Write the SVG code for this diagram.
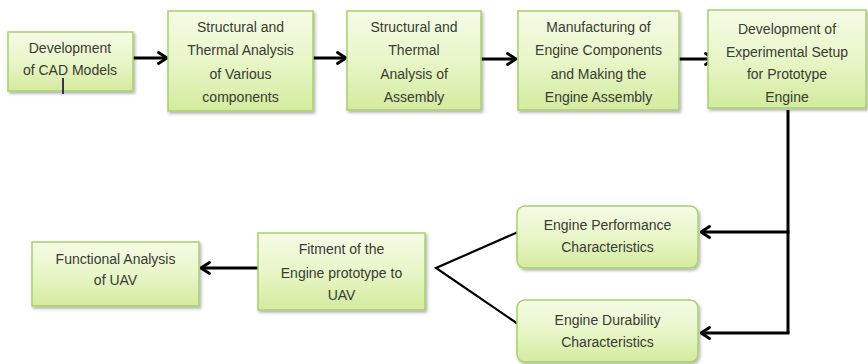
<svg xmlns="http://www.w3.org/2000/svg" width="868" height="364" viewBox="0 0 868 364">
  <defs>
    <linearGradient id="boxFill" x1="0" y1="0" x2="0" y2="1">
      <stop offset="0" stop-color="#f5fbe6"/>
      <stop offset="0.5" stop-color="#e8f6c8"/>
      <stop offset="1" stop-color="#d3eb9e"/>
    </linearGradient>
    <filter id="shadow" x="-10%" y="-10%" width="125%" height="130%">
      <feDropShadow dx="1.5" dy="2" stdDeviation="1.4" flood-color="#000" flood-opacity="0.3"/>
    </filter>
    <marker id="chev" viewBox="0 0 12 14" refX="10.5" refY="7" markerWidth="12" markerHeight="14" markerUnits="userSpaceOnUse" orient="auto">
      <path d="M2,1.5 L10.5,7 L2,12.5" fill="none" stroke="#000" stroke-width="2.8" stroke-linecap="round" stroke-linejoin="round"/>
    </marker>
  </defs>
  <style>
    .box { fill: url(#boxFill); stroke: #a8cf6e; stroke-width: 1.5; filter: url(#shadow); }
    .lbl { font-family: "Liberation Sans", Arial, sans-serif; font-size: 14px; fill: #3a3a36; text-anchor: middle; }
    .arrow { fill: none; stroke: #000; stroke-width: 3; marker-end: url(#chev); }
    .line { fill: none; stroke: #000; stroke-width: 3; }
    .thin { fill: none; stroke: #000; stroke-width: 2.2; }
  </style>

  <rect width="868" height="364" fill="#fff"/>

  <!-- connectors -->
  <g id="connectors">
    <line class="arrow" x1="133" y1="58" x2="167" y2="58"/>
    <line class="arrow" x1="313" y1="58" x2="346" y2="58"/>
    <line class="arrow" x1="481" y1="59" x2="516" y2="59"/>
    <line class="arrow" x1="679" y1="59" x2="714" y2="59"/>
    <polyline class="line" points="788,110 788,333"/>
    <line class="arrow" x1="789.5" y1="232" x2="701" y2="232"/>
    <line class="arrow" x1="789.5" y1="333" x2="701" y2="333"/>
    <polyline class="thin" points="518,232 436,268 518,324"/>
    <line class="arrow" x1="258" y1="268" x2="201" y2="268"/>
  </g>

  <!-- top row -->
  <g id="cad-models">
    <rect class="box" x="8" y="32" width="125" height="59"/>
    <text class="lbl" x="70" y="53">Development</text>
    <text class="lbl" x="70" y="75">of CAD Models</text>
    <line x1="63" y1="78" x2="63" y2="94" stroke="#3b2c66" stroke-width="2"/>
  </g>

  <g id="analysis-components">
    <rect class="box" x="168" y="11" width="145" height="100"/>
    <text class="lbl" x="240.5" y="32">Structural and</text>
    <text class="lbl" x="240.5" y="55">Thermal Analysis</text>
    <text class="lbl" x="240.5" y="79">of Various</text>
    <text class="lbl" x="240.5" y="102">components</text>
  </g>

  <g id="analysis-assembly">
    <rect class="box" x="347" y="11" width="134" height="99"/>
    <text class="lbl" x="414" y="32">Structural and</text>
    <text class="lbl" x="414" y="55">Thermal</text>
    <text class="lbl" x="414" y="79">Analysis of</text>
    <text class="lbl" x="414" y="102">Assembly</text>
  </g>

  <g id="manufacturing">
    <rect class="box" x="518" y="11" width="161" height="99"/>
    <text class="lbl" x="598.5" y="32">Manufacturing of</text>
    <text class="lbl" x="598.5" y="55">Engine Components</text>
    <text class="lbl" x="598.5" y="79">and Making the</text>
    <text class="lbl" x="598.5" y="102">Engine Assembly</text>
  </g>

  <g id="experimental-setup">
    <rect class="box" x="708" y="10" width="158" height="98"/>
    <text class="lbl" x="787" y="34">Development of</text>
    <text class="lbl" x="787" y="57">Experimental Setup</text>
    <text class="lbl" x="787" y="79">for Prototype</text>
    <text class="lbl" x="787" y="102">Engine</text>
  </g>

  <!-- bottom row -->
  <g id="performance">
    <rect class="box" x="517" y="206" width="181" height="62" rx="8"/>
    <text class="lbl" x="607.5" y="230">Engine Performance</text>
    <text class="lbl" x="607.5" y="252">Characteristics</text>
  </g>

  <g id="durability">
    <rect class="box" x="517" y="300" width="181" height="62" rx="8"/>
    <text class="lbl" x="607.5" y="325">Engine Durability</text>
    <text class="lbl" x="607.5" y="347">Characteristics</text>
  </g>

  <g id="fitment">
    <rect class="box" x="258" y="233" width="167" height="77"/>
    <text class="lbl" x="341.5" y="254">Fitment of the</text>
    <text class="lbl" x="341.5" y="278">Engine prototype to</text>
    <text class="lbl" x="341.5" y="300">UAV</text>
  </g>

  <g id="functional-analysis">
    <rect class="box" x="32" y="242" width="167" height="64"/>
    <text class="lbl" x="115.5" y="264">Functional Analysis</text>
    <text class="lbl" x="115.5" y="285">of UAV</text>
  </g>
</svg>
